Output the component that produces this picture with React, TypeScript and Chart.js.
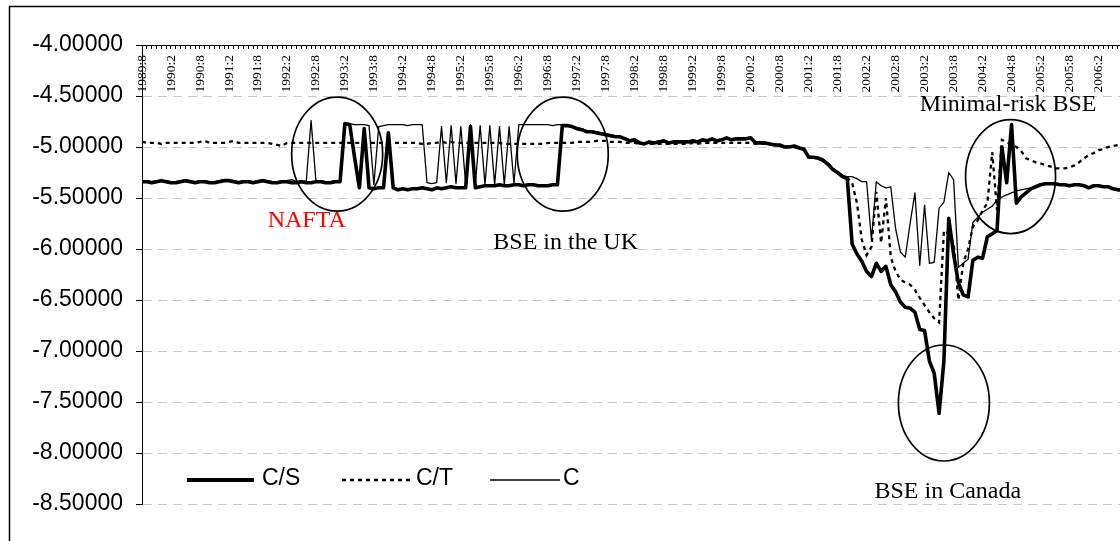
import React, { useEffect, useRef } from "react";
import { Chart, registerables } from "chart.js";

Chart.register(...registerables);

// ---------- categories ----------
const START_YEAR = 1989;
const START_MONTH = 8;
const MONTH_COUNT = 209;
const months: string[] = Array.from({ length: MONTH_COUNT }, (_, k) => {
  const m = START_MONTH - 1 + k;
  return `${START_YEAR + Math.floor(m / 12)}:${(m % 12) + 1}`;
});
const LABEL_EVERY = 6;

// ---------- y axis ----------
const Y_MIN = -8.5;
const Y_MAX = -4;
const Y_STEP = 0.5;

// ---------- series ----------
const SERIES_NAMES = ["C/S", "C/T", "C"];

const seriesCS: number[] = [
  -5.34, -5.34, -5.35, -5.34, -5.33, -5.34, -5.35, -5.35, -5.34, -5.33,
  -5.34, -5.35, -5.34, -5.34, -5.35, -5.35, -5.34, -5.33, -5.33, -5.34,
  -5.35, -5.34, -5.34, -5.35, -5.34, -5.33, -5.34, -5.35, -5.35, -5.34,
  -5.34, -5.35, -5.35, -5.34, -5.35, -5.35, -5.34, -5.34, -5.35, -5.35,
  -5.34, -5.34, -4.77, -4.78, -5.10, -5.40, -4.82, -5.40, -5.41, -5.40,
  -5.40, -4.86, -5.40, -5.42, -5.41, -5.42, -5.41, -5.41, -5.40, -5.41,
  -5.42, -5.40, -5.41, -5.40, -5.39, -5.40, -5.40, -5.40, -4.80, -5.40,
  -5.39, -5.38, -5.38, -5.38, -5.37, -5.38, -5.38, -5.37, -5.37, -5.38,
  -5.37, -5.37, -5.38, -5.38, -5.38, -5.37, -5.37, -4.79, -4.79, -4.80,
  -4.82, -4.83, -4.85, -4.85, -4.86, -4.87, -4.88, -4.89, -4.90, -4.90,
  -4.92, -4.94, -4.93, -4.96, -4.97, -4.95, -4.96, -4.95, -4.94, -4.96,
  -4.95, -4.95, -4.95, -4.95, -4.94, -4.95, -4.93, -4.94, -4.92, -4.94,
  -4.93, -4.91, -4.93, -4.92, -4.92, -4.92, -4.91, -4.96, -4.96, -4.96,
  -4.97, -4.98, -4.98, -5.00, -5.00, -4.99, -5.01, -5.02, -5.10, -5.10,
  -5.11, -5.13, -5.17, -5.22, -5.25, -5.29, -5.31, -5.95, -6.05, -6.12,
  -6.22, -6.27, -6.14, -6.22, -6.17, -6.35, -6.42, -6.52, -6.57, -6.58,
  -6.62, -6.79, -6.80, -7.10, -7.22, -7.61, -7.10, -5.70, -6.05, -6.33,
  -6.45, -6.47, -6.11, -6.08, -6.09, -5.88, -5.85, -5.82, -5.00, -5.35,
  -4.78, -5.55, -5.49, -5.45, -5.41, -5.39, -5.37, -5.36, -5.36, -5.36,
  -5.37, -5.37, -5.38, -5.37, -5.37, -5.38, -5.40, -5.38, -5.38, -5.39,
  -5.39, -5.41, -5.42, -5.42, -5.41, -5.41, -5.42, -5.42, -5.43,
];

const seriesCT: number[] = [
  -4.95, -4.96, -4.96, -4.96, -4.97, -4.96, -4.96, -4.96, -4.96, -4.96,
  -4.96, -4.96, -4.95, -4.94, -4.96, -4.96, -4.96, -4.96, -4.95, -4.94,
  -4.96, -4.96, -4.96, -4.96, -4.96, -4.96, -4.96, -4.97, -4.98, -4.99,
  -4.96, -4.96, -4.96, -4.96, -4.96, -4.96, -4.96, -4.96, -4.96, -4.96,
  -4.96, -4.96, -4.96, -4.96, -4.96, -4.96, -4.97, -4.96, -4.96, -4.96,
  -4.96, -4.96, -4.96, -4.96, -4.96, -4.96, -4.96, -4.96, -4.97, -4.97,
  -4.96, -4.96, -4.95, -4.96, -4.95, -4.96, -4.96, -4.96, -4.96, -4.96,
  -4.96, -4.96, -4.96, -4.96, -4.96, -4.97, -4.97, -4.97, -4.97, -4.97,
  -4.97, -4.97, -4.97, -4.97, -4.96, -4.96, -4.96, -4.96, -4.96, -4.96,
  -4.95, -4.95, -4.95, -4.95, -4.94, -4.94, -4.94, -4.95, -4.95, -4.95,
  -4.96, -4.96, -4.96, -4.97, -4.97, -4.97, -4.97, -4.97, -4.97, -4.97,
  -4.97, -4.97, -4.97, -4.97, -4.96, -4.97, -4.96, -4.96, -4.96, -4.96,
  -4.96, -4.96, -4.96, -4.96, -4.96, -4.96, -4.96, -4.97, -4.97, -4.97,
  -4.98, -4.98, -4.99, -5.00, -5.00, -5.00, -5.01, -5.03, -5.09, -5.10,
  -5.11, -5.13, -5.16, -5.21, -5.25, -5.28, -5.30, -5.35, -5.55, -5.91,
  -6.06, -5.98, -5.44, -5.94, -5.50, -6.08, -6.22, -6.30, -6.33, -6.35,
  -6.40, -6.48, -6.55, -6.62, -6.68, -6.72, -5.82, -5.85, -5.94, -6.50,
  -6.14, -6.00, -5.78, -5.72, -5.62, -5.55, -5.05, -5.62, -4.93, -4.95,
  -4.98, -5.00, -5.04, -5.11, -5.13, -5.15, -5.16, -5.18, -5.19, -5.21,
  -5.21, -5.21, -5.20, -5.18, -5.15, -5.11, -5.08, -5.06, -5.03, -5.02,
  -5.00, -4.99, -4.98, -4.97, -4.97, -4.96, -4.96, -4.96, -4.96,
];

const seriesC: number[] = [
  -5.33, -5.33, -5.34, -5.33, -5.33, -5.33, -5.34, -5.34, -5.33, -5.32,
  -5.33, -5.34, -5.33, -5.33, -5.34, -5.34, -5.33, -5.32, -5.32, -5.33,
  -5.34, -5.33, -5.33, -5.34, -5.33, -5.32, -5.33, -5.34, -5.34, -5.33,
  -5.33, -5.32, -5.34, -5.33, -5.34, -4.74, -5.33, -5.33, -5.34, -5.34,
  -5.33, -5.33, -4.77, -4.77, -4.78, -4.78, -4.78, -4.79, -5.37, -4.80,
  -4.79, -4.78, -4.78, -4.78, -4.78, -4.79, -4.78, -4.78, -4.78, -5.35,
  -5.36, -5.35, -4.80, -5.35, -4.79, -5.36, -4.80, -5.36, -4.78, -5.37,
  -4.79, -5.37, -4.79, -5.37, -4.80, -5.37, -4.80, -5.36, -4.78, -4.78,
  -4.78, -4.78, -4.78, -4.78, -4.78, -4.79, -4.78, -4.78, -4.79, -4.79,
  -4.81, -4.82, -4.84, -4.84, -4.85, -4.86, -4.87, -4.88, -4.89, -4.90,
  -4.91, -4.93, -4.92, -4.95, -4.96, -4.95, -4.95, -4.94, -4.94, -4.95,
  -4.95, -4.94, -4.95, -4.94, -4.94, -4.94, -4.93, -4.93, -4.92, -4.93,
  -4.92, -4.91, -4.92, -4.92, -4.91, -4.92, -4.91, -4.95, -4.95, -4.96,
  -4.97, -4.97, -4.98, -4.99, -4.99, -4.99, -5.00, -5.02, -5.09, -5.10,
  -5.10, -5.12, -5.16, -5.21, -5.25, -5.28, -5.29, -5.29, -5.31, -5.34,
  -5.34, -5.91, -5.34, -5.38, -5.40, -5.39, -5.80, -6.03, -6.08, -5.75,
  -5.45, -6.16, -5.57, -6.14, -6.13, -5.60, -5.54, -5.25, -5.32, -6.18,
  -6.14, -6.10, -5.74, -5.69, -5.64, -5.61, -5.58, -5.52, -5.49, -5.47,
  -5.45, -5.43, -5.42, -5.41, -5.40, -5.39, -5.37, -5.36, -5.36, -5.36,
  -5.37, -5.37, -5.38, -5.37, -5.37, -5.38, -5.40, -5.38, -5.38, -5.39,
  -5.39, -5.41, -5.42, -5.42, -5.41, -5.41, -5.42, -5.42, -5.43,
];

// ---------- annotations (x = month index, y = value) ----------
const notes = [
  { text: "NAFTA", x: 34.1, y: -5.72, color: "#ff0000" },
  { text: "BSE in the UK", x: 87.7, y: -5.94, color: "#000000" },
  { text: "Minimal-risk BSE", x: 179.3, y: -4.59, color: "#000000" },
  { text: "BSE in Canada", x: 166.8, y: -8.38, color: "#000000" },
];
const circles = [
  { x: 40.4, y: -5.07, rx: 45.5, ry: 57 },
  { x: 87.1, y: -5.07, rx: 45.5, ry: 57 },
  { x: 166.0, y: -7.51, rx: 45.5, ry: 58 },
  { x: 179.8, y: -5.29, rx: 45, ry: 57 },
];

const SANS = '"Liberation Sans", Arial, sans-serif';
const SERIF = '"Liberation Serif", "Times New Roman", serif';

const legendSlots = [
  { x1: 187, x2: 254, tx: 262, lw: 4 },
  { x1: 342, x2: 410, tx: 416, lw: 2.5 },
  { x1: 490, x2: 560, tx: 563, lw: 1.3 },
];
const LEGEND_Y = 480;

const decorPlugin = {
  id: "decor",
  afterDatasetsDraw(chart: any) {
    const { ctx, scales } = chart;
    const xs = scales.x;
    const ys = scales.y;
    ctx.save();
    // ellipses
    ctx.strokeStyle = "#000";
    ctx.lineWidth = 1.7;
    ctx.setLineDash([]);
    circles.forEach((c) => {
      ctx.beginPath();
      ctx.ellipse(xs.getPixelForValue(c.x), ys.getPixelForValue(c.y), c.rx, c.ry, 0, 0, Math.PI * 2);
      ctx.stroke();
    });
    // notes
    ctx.font = `24px ${SERIF}`;
    ctx.textAlign = "center";
    ctx.textBaseline = "middle";
    notes.forEach((n) => {
      ctx.fillStyle = n.color;
      ctx.fillText(n.text, xs.getPixelForValue(n.x), ys.getPixelForValue(n.y));
    });
    // legend
    ctx.textAlign = "left";
    ctx.font = `23px ${SANS}`;
    chart.data.datasets.forEach((ds: any, i: number) => {
      const s = legendSlots[i];
      ctx.beginPath();
      ctx.lineWidth = s.lw;
      ctx.strokeStyle = "#000";
      ctx.setLineDash(ds.borderDash || []);
      ctx.moveTo(s.x1, LEGEND_Y);
      ctx.lineTo(s.x2, LEGEND_Y);
      ctx.stroke();
      ctx.setLineDash([]);
      ctx.fillStyle = "#000";
      ctx.fillText(ds.label, s.tx, LEGEND_Y - 1);
    });
    // outer frame
    ctx.lineWidth = 1.5;
    ctx.strokeStyle = "#000";
    ctx.strokeRect(9.5, 6.5, chart.width + 40, chart.height + 40);
    ctx.restore();
  },
};

const CANVAS_W = 1170;
const CANVAS_H = 560;

export default function App() {
  const ref = useRef<HTMLCanvasElement>(null);

  useEffect(() => {
    if (!ref.current) return;
    const chart = new Chart(ref.current, {
      type: "line",
      data: {
        labels: months,
        datasets: [
          {
            label: SERIES_NAMES[0],
            data: seriesCS,
            borderColor: "#000",
            borderWidth: 3.6,
            pointRadius: 0,
            tension: 0,
            borderJoinStyle: "round",
            order: 3,
          },
          {
            label: SERIES_NAMES[1],
            data: seriesCT,
            borderColor: "#000",
            borderWidth: 2.3,
            borderDash: [4, 4],
            pointRadius: 0,
            tension: 0,
            order: 2,
          },
          {
            label: SERIES_NAMES[2],
            data: seriesC,
            borderColor: "#000",
            borderWidth: 1.3,
            pointRadius: 0,
            tension: 0,
            borderJoinStyle: "round",
            order: 1,
          },
        ],
      },
      options: {
        responsive: false,
        animation: false,
        devicePixelRatio: 1,
        layout: { padding: { left: 0, top: 45, right: 18, bottom: CANVAS_H - 504 } },
        plugins: { legend: { display: false }, tooltip: { enabled: false } },
        scales: {
          x: {
            type: "category",
            position: { y: Y_MAX } as any,
            offset: false,
            grid: {
              drawOnChartArea: false,
              drawTicks: true,
              tickLength: 3,
              tickColor: "#000",
              tickWidth: 1,
            },
            border: { display: true, color: "#000", width: 1 },
            ticks: {
              autoSkip: false,
              minRotation: 90,
              maxRotation: 90,
              padding: 7,
              color: "#000",
              font: { family: SERIF, size: 13.5 },
              callback: (_v: any, i: number) => (i % LABEL_EVERY === 0 ? months[i] : ""),
            },
            afterFit: (s: any) => {
              s.height = 0;
            },
          },
          y: {
            min: Y_MIN,
            max: Y_MAX,
            position: "left",
            grid: {
              color: (c: any) => (c.tick && c.tick.value === Y_MAX ? "rgba(0,0,0,0)" : "#c8c8c8"),
              lineWidth: 1,
              borderDash: [9, 6],
              tickLength: 6,
              tickColor: "#000",
              tickWidth: 1,
              tickBorderDash: [],
            } as any,
            border: { display: true, color: "#000", width: 1, dash: [9, 6] } as any,
            ticks: {
              stepSize: Y_STEP,
              padding: 13,
              color: "#000",
              font: { family: SANS, size: 23 },
              callback: (v: any) => Number(v).toFixed(5),
            },
            afterFit: (s: any) => {
              s.width = 142;
            },
          },
        },
      },
      plugins: [decorPlugin],
    });
    return () => chart.destroy();
  }, []);

  return (
    <div
      style={{
        position: "fixed",
        left: 0,
        top: 0,
        width: 1120,
        height: 541,
        overflow: "hidden",
        background: "#fff",
      }}
    >
      <canvas
        ref={ref}
        width={CANVAS_W}
        height={CANVAS_H}
        style={{ display: "block", width: CANVAS_W, height: CANVAS_H }}
      />
    </div>
  );
}
